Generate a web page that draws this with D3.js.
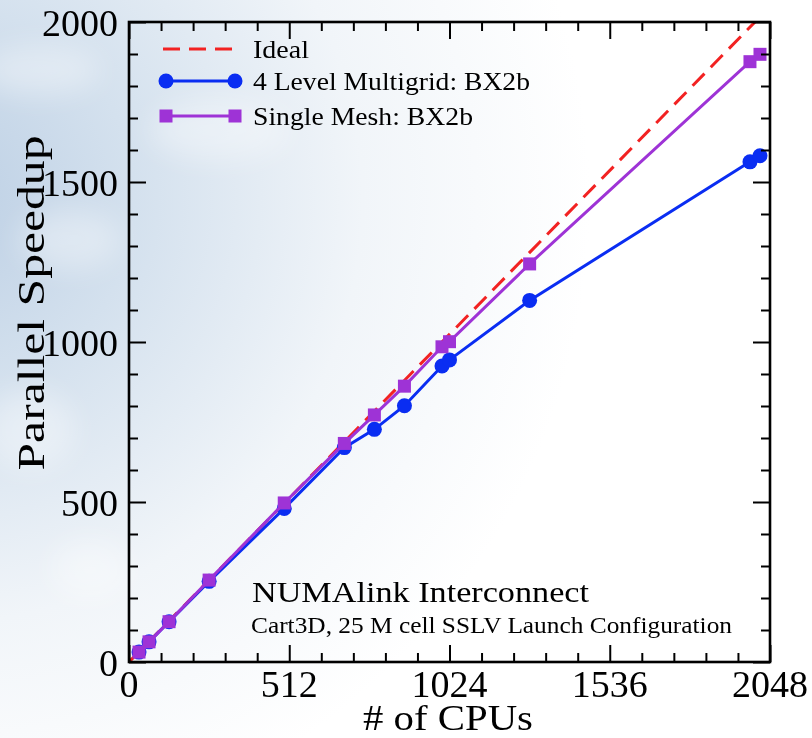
<!DOCTYPE html>
<html>
<head>
<meta charset="utf-8">
<script src="https://cdn.jsdelivr.net/npm/d3@7"></script>
<style>
  html, body { margin: 0; padding: 0; background: #ffffff; }
  svg { display: block; }
  text { font-family: "Liberation Serif", "Times New Roman", "DejaVu Serif", serif; fill: #000; }
</style>
</head>
<body>
<svg id="chart" width="812" height="738"></svg>
<script>
// ---- data ----
const cpus = [32, 64, 128, 256, 496, 688, 784, 880, 1000, 1024, 1280, 1984, 2016];
const multigrid = [31, 63, 126, 252, 480, 670, 727, 801, 925, 944, 1130, 1563, 1582];
const singleMesh = [31, 63, 126, 256, 497, 683, 772, 862, 985, 1001, 1244, 1876, 1899];
const idealX = [0, 2048];
const idealY = [0, 2048];
const xTicks = [0, 512, 1024, 1536, 2048];
const yTicks = [0, 500, 1000, 1500, 2000];
const seriesNames = ["Ideal", "4 Level Multigrid: BX2b", "Single Mesh: BX2b"];
const xTitle = "# of CPUs";
const yTitle = "Parallel Speedup";
const note1 = "NUMAlink Interconnect";
const note2 = "Cart3D, 25 M cell SSLV Launch Configuration";

// ---- layout ----
const W = 812, H = 738;
const margin = { left: 129, right: 42, top: 22, bottom: 76 };
const iw = W - margin.left - margin.right;
const ih = H - margin.top - margin.bottom;

const colIdeal = "#f22222", colMG = "#0a2df2", colSM = "#9e33d6";

const svg = d3.select("#chart");
const defs = svg.append("defs");

// background: soft sky tint fading from the left
const rg = defs.append("radialGradient").attr("id", "sky")
  .attr("gradientUnits", "userSpaceOnUse")
  .attr("cx", -60).attr("cy", 200).attr("r", 650);
rg.append("stop").attr("offset", "0").attr("stop-color", "#bccfe4");
rg.append("stop").attr("offset", "0.3").attr("stop-color", "#d4e1ee");
rg.append("stop").attr("offset", "0.65").attr("stop-color", "#f1f5f9");
rg.append("stop").attr("offset", "1").attr("stop-color", "#ffffff");
svg.append("rect").attr("width", W).attr("height", H).attr("fill", "url(#sky)");

const blur = defs.append("filter").attr("id", "soft").attr("x", "-50%").attr("y", "-50%").attr("width", "200%").attr("height", "200%");
blur.append("feGaussianBlur").attr("stdDeviation", 14);
const clouds = [[40, 70, 60, 25], [70, 240, 50, 30], [30, 430, 45, 40], [90, 570, 40, 30], [220, 130, 70, 30]];
svg.append("g").attr("filter", "url(#soft)").selectAll("ellipse").data(clouds).join("ellipse")
  .attr("cx", d => d[0]).attr("cy", d => d[1]).attr("rx", d => d[2]).attr("ry", d => d[3])
  .attr("fill", "#ffffff").attr("opacity", 0.35);

defs.append("clipPath").attr("id", "plotclip").append("rect")
  .attr("x", 0).attr("y", 0).attr("width", iw).attr("height", ih);

const g = svg.append("g").attr("transform", `translate(${margin.left},${margin.top})`);

const x = d3.scaleLinear().domain([0, 2048]).range([0, iw]);
const y = d3.scaleLinear().domain([0, 2000]).range([ih, 0]);

const xMinor = d3.range(0, 2048.1, 102.4).filter(v => !xTicks.some(t => Math.abs(t - v) < 1e-6));
const yMinor = d3.range(0, 2000.1, 100).filter(v => !yTicks.includes(v));

// ---- series ----
const plot = g.append("g").attr("clip-path", "url(#plotclip)");
const idealData = idealX.map((v, i) => [v, idealY[i]]);
plot.append("path").datum(idealData)
  .attr("d", d3.line().x(d => x(d[0])).y(d => y(d[1])))
  .attr("fill", "none").attr("stroke", colIdeal).attr("stroke-width", 3)
  .attr("stroke-dasharray", "17,9");

const line = d3.line().x((d, i) => x(cpus[i])).y(d => y(d));
g.append("path").datum(multigrid).attr("d", line)
  .attr("fill", "none").attr("stroke", colMG).attr("stroke-width", 3);
g.append("g").selectAll("circle").data(multigrid).join("circle")
  .attr("cx", (d, i) => x(cpus[i])).attr("cy", d => y(d)).attr("r", 7.5).attr("fill", colMG);

g.append("path").datum(singleMesh).attr("d", line)
  .attr("fill", "none").attr("stroke", colSM).attr("stroke-width", 3);
const sq = 13;
g.append("g").selectAll("rect").data(singleMesh).join("rect")
  .attr("x", (d, i) => x(cpus[i]) - sq / 2).attr("y", d => y(d) - sq / 2)
  .attr("width", sq).attr("height", sq).attr("fill", colSM);

// ---- axes (ticks inward on all four sides) ----
function styleAxis(sel) {
  sel.select(".domain").remove();
  sel.selectAll("line").attr("stroke", "#000").attr("stroke-width", 2);
  sel.selectAll("text").remove();
}
const maj = 17, mnr = 9;
g.append("g").attr("transform", `translate(0,${ih})`).call(d3.axisTop(x).tickValues(xTicks).tickSize(maj)).call(styleAxis);
g.append("g").attr("transform", `translate(0,${ih})`).call(d3.axisTop(x).tickValues(xMinor).tickSize(mnr)).call(styleAxis);
g.append("g").call(d3.axisBottom(x).tickValues(xTicks).tickSize(maj)).call(styleAxis);
g.append("g").call(d3.axisBottom(x).tickValues(xMinor).tickSize(mnr)).call(styleAxis);
g.append("g").call(d3.axisRight(y).tickValues(yTicks).tickSize(maj)).call(styleAxis);
g.append("g").call(d3.axisRight(y).tickValues(yMinor).tickSize(mnr)).call(styleAxis);
g.append("g").attr("transform", `translate(${iw},0)`).call(d3.axisLeft(y).tickValues(yTicks).tickSize(maj)).call(styleAxis);
g.append("g").attr("transform", `translate(${iw},0)`).call(d3.axisLeft(y).tickValues(yMinor).tickSize(mnr)).call(styleAxis);

g.append("rect").attr("x", 0).attr("y", 0).attr("width", iw).attr("height", ih)
  .attr("fill", "none").attr("stroke", "#000").attr("stroke-width", 2.6);

// tick labels
g.append("g").selectAll("text").data(xTicks).join("text")
  .attr("x", d => x(d)).attr("y", ih + 35).attr("text-anchor", "middle")
  .style("font-size", "38px").text(d => d);
g.append("g").selectAll("text").data(yTicks).join("text")
  .attr("x", -11).attr("y", d => y(d)).attr("dy", "0.36em").attr("text-anchor", "end")
  .style("font-size", "38px").text(d => d);

// axis titles
svg.append("text").attr("x", 448).attr("y", 730).attr("text-anchor", "middle")
  .style("font-size", "36px").attr("textLength", 170).attr("lengthAdjust", "spacingAndGlyphs").text(xTitle);
svg.append("text").attr("transform", `translate(44,303) rotate(-90)`)
  .attr("text-anchor", "middle").style("font-size", "37px")
  .attr("textLength", 335).attr("lengthAdjust", "spacingAndGlyphs").text(yTitle);

// ---- legend ----
const lg = svg.append("g");
const rows = [49, 81, 116];
const lx0 = 166, lx1 = 235;
lg.append("line").attr("x1", lx0 - 3).attr("x2", lx1).attr("y1", rows[0]).attr("y2", rows[0])
  .attr("stroke", colIdeal).attr("stroke-width", 3).attr("stroke-dasharray", "17,9");
lg.append("line").attr("x1", lx0).attr("x2", lx1).attr("y1", rows[1]).attr("y2", rows[1])
  .attr("stroke", colMG).attr("stroke-width", 3);
lg.selectAll("circle").data([lx0, lx1]).join("circle")
  .attr("cx", d => d).attr("cy", rows[1]).attr("r", 7.5).attr("fill", colMG);
lg.append("line").attr("x1", lx0).attr("x2", lx1).attr("y1", rows[2]).attr("y2", rows[2])
  .attr("stroke", colSM).attr("stroke-width", 3);
lg.selectAll("rect").data([lx0, lx1]).join("rect")
  .attr("x", d => d - sq / 2).attr("y", rows[2] - sq / 2).attr("width", sq).attr("height", sq).attr("fill", colSM);
const legendLen = [56, 277, 220];
lg.selectAll("text").data(seriesNames).join("text")
  .attr("x", 253).attr("y", (d, i) => rows[i] + 9).style("font-size", "26px")
  .attr("textLength", (d, i) => legendLen[i]).attr("lengthAdjust", "spacingAndGlyphs").text(d => d);

// ---- annotation ----
svg.append("text").attr("x", 252).attr("y", 602).style("font-size", "30px")
  .attr("textLength", 337).attr("lengthAdjust", "spacingAndGlyphs").text(note1);
svg.append("text").attr("x", 251).attr("y", 633).style("font-size", "23px")
  .attr("textLength", 481).attr("lengthAdjust", "spacingAndGlyphs").text(note2);
</script>
</body>
</html>
